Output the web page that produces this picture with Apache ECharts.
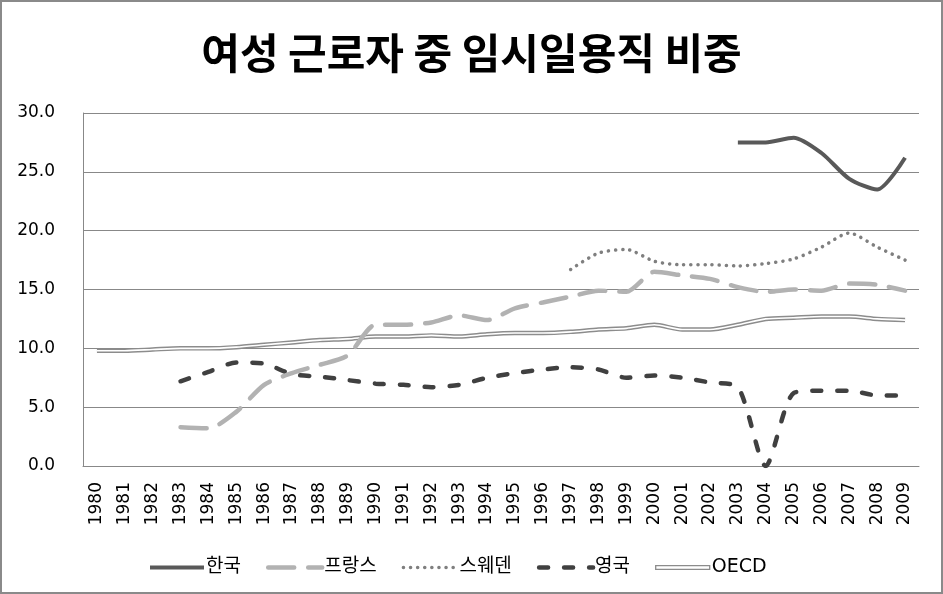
<!DOCTYPE html>
<html>
<head>
<meta charset="utf-8">
<script src="https://cdn.jsdelivr.net/npm/echarts@6/dist/echarts.min.js"></script>
<style>
html,body{margin:0;padding:0;background:#fff;}
#chart{width:943px;height:594px;position:absolute;left:0;top:0;}
#frame{position:absolute;left:0;top:0;width:943px;height:594px;box-sizing:border-box;border:2px solid #8a8a8a;pointer-events:none;}
</style>
</head>
<body>
<div id="chart"></div>
<div id="frame"></div>
<script>
const years = ['1980','1981','1982','1983','1984','1985','1986','1987','1988','1989','1990','1991','1992','1993','1994','1995','1996','1997','1998','1999','2000','2001','2002','2003','2004','2005','2006','2007','2008','2009'];
const korea = [null,null,null,null,null,null,null,null,null,null,null,null,null,null,null,null,null,null,null,null,null,null,null,27.5,27.5,27.9,26.6,24.4,23.5,26.2];
const france = [null,null,null,3.3,3.2,4.6,6.9,7.9,8.6,9.4,12.0,12.0,12.2,12.8,12.4,13.4,13.9,14.4,14.9,14.8,16.5,16.2,15.9,15.2,14.8,15.0,14.9,15.5,15.4,14.9];
const sweden = [null,null,null,null,null,null,null,null,null,null,null,null,null,null,null,null,null,16.7,18.1,18.4,17.4,17.1,17.1,17.0,17.2,17.6,18.6,19.8,18.6,17.5];
const uk = [null,null,null,7.2,8.0,8.8,8.7,7.8,7.6,7.3,7.0,6.9,6.7,6.9,7.5,7.9,8.2,8.4,8.2,7.5,7.7,7.5,7.1,6.7,0.0,6.2,6.4,6.4,6.0,6.0];
const oecd = [9.8,9.8,9.9,10.0,10.0,10.1,10.3,10.5,10.7,10.8,11.0,11.0,11.1,11.0,11.2,11.3,11.3,11.4,11.6,11.7,12.0,11.6,11.6,12.0,12.5,12.6,12.7,12.7,12.5,12.4];
const yTicks = [0,5,10,15,20,25,30];

const chart = echarts.init(document.getElementById('chart'), null, {renderer:'canvas'});
const SM = 0.25;
const latin = 'DejaVu Sans, Noto Sans CJK KR';
chart.setOption({
  animation:false,
  title:{
    text:'여성 근로자 중 임시일용직 비중',
    left:'center', top:27,
    textStyle:{fontFamily:'Noto Sans CJK KR', fontWeight:'bold', fontSize:42, color:'#000'}
  },
  legend:{
    left:143, top:553,
    itemWidth:54, itemHeight:14, itemGap:25,
    itemStyle:{opacity:0},
    lineStyle:{width:'inherit'},
    textStyle:{fontFamily:latin, fontSize:19, color:'#000', padding:[0,0,0,-3]},
    data:[
      {name:'한국'},{name:'프랑스'},{name:'스웨덴'},{name:'영국'},
      {name:'OECD', icon:'path://M0,0 L60,0 L60,4 L0,4 Z', itemStyle:{color:'#fff', borderColor:'#8c8c8c', borderWidth:1.3, opacity:1}}
    ]
  },
  grid:{left:83, right:24, top:113, bottom:128},
  xAxis:{
    type:'category', data:years, boundaryGap:true,
    axisLine:{show:true, lineStyle:{color:'#888', width:1}},
    axisTick:{show:false},
    axisLabel:{rotate:90, interval:0, margin:16, fontFamily:latin, fontSize:17, color:'#000', padding:[14,0,0,0]},
    splitLine:{show:false}
  },
  yAxis:{
    type:'value', min:yTicks[0], max:yTicks[yTicks.length-1], interval:5,
    axisLine:{show:true, lineStyle:{color:'#888', width:1}},
    axisTick:{show:false},
    axisLabel:{margin:28, fontFamily:latin, fontSize:17, color:'#000', formatter:v=>v.toFixed(1)},
    splitLine:{show:true, lineStyle:{color:'#888', width:1}}
  },
  series:[
    {name:'OECD', type:'line', data:oecd, smooth:SM, symbol:'none', connectNulls:false,
      lineStyle:{color:'#8c8c8c', width:4.5}, itemStyle:{color:'#8c8c8c'}, z:2},
    {name:'OECD_inner', type:'line', data:oecd, smooth:SM, symbol:'none', silent:true,
      lineStyle:{color:'#fff', width:1.6}, itemStyle:{color:'#fff'}, z:3},
    {name:'영국', type:'line', data:uk, smooth:SM, symbol:'none',
      lineStyle:{color:'#404040', width:4.5, type:[9,16], cap:'round'}, itemStyle:{color:'#404040'}, z:4},
    {name:'프랑스', type:'line', data:france, smooth:SM, symbol:'none',
      lineStyle:{color:'#b2b2b2', width:4.5, type:[26,14], cap:'round'}, itemStyle:{color:'#b2b2b2'}, z:4},
    {name:'스웨덴', type:'line', data:sweden, smooth:SM, symbol:'none',
      lineStyle:{color:'#7f7f7f', width:3.5, type:[0.1,7], cap:'round'}, itemStyle:{color:'#7f7f7f'}, z:4},
    {name:'한국', type:'line', data:korea, smooth:SM, symbol:'none',
      lineStyle:{color:'#595959', width:4}, itemStyle:{color:'#595959'}, z:5}
  ]
});
</script>
</body>
</html>
